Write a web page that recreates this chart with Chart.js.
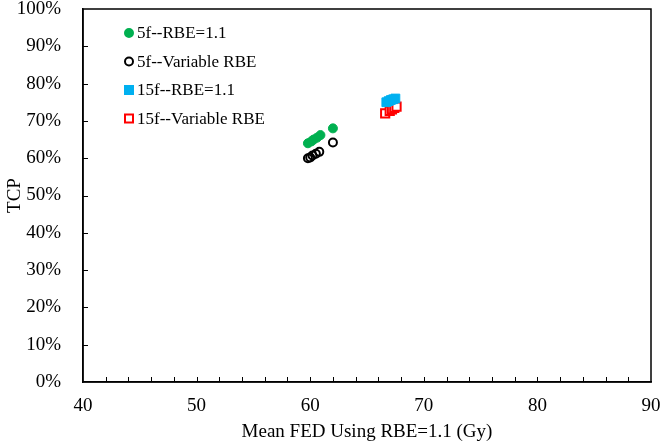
<!DOCTYPE html>
<html>
<head>
<meta charset="utf-8">
<script src="https://cdn.jsdelivr.net/npm/chart.js@4"></script>
<style>
  html, body { margin: 0; padding: 0; background: #fff; }
</style>
</head>
<body>
<canvas id="chart" width="663" height="447"></canvas>
<script>
// values
const seriesLabels = ['5f--RBE=1.1', '5f--Variable RBE', '15f--RBE=1.1', '15f--Variable RBE'];

const fed5fRbe = [59.8, 60.1, 60.3, 60.6, 60.9, 62.0];
const tcp5fRbe = [0.640, 0.645, 0.650, 0.655, 0.662, 0.680];

const fed5fVar = [59.8, 60.0, 60.2, 60.5, 60.8, 62.0];
const tcp5fVar = [0.600, 0.602, 0.607, 0.612, 0.617, 0.642];

const fed15fRbe = [66.7, 66.9, 67.1, 67.3, 67.5];
const tcp15fRbe = [0.750, 0.753, 0.756, 0.758, 0.760];

const fed15fVar = [66.6, 67.0, 67.2, 67.4, 67.6];
const tcp15fVar = [0.720, 0.727, 0.731, 0.735, 0.738];

const xTicks = [40, 50, 60, 70, 80, 90];

const serif = "'Liberation Serif', 'Times New Roman', serif";

const pts = (xs, ys) => xs.map((x, i) => ({ x: x, y: ys[i] }));

// frame + inside tick marks
const frame = {
    id: 'frame',
    afterDraw(chart) {
        const { ctx, chartArea: a, scales } = chart;
        ctx.save();
        ctx.strokeStyle = '#000';
        ctx.lineWidth = 1.5;
        ctx.strokeRect(a.left, a.top, a.right - a.left, a.bottom - a.top);
        ctx.lineWidth = 1;
        ctx.beginPath();
        for (let v = 42; v < 90; v += 2) {
            const px = Math.round(scales.x.getPixelForValue(v)) + 0.5;
            ctx.moveTo(px, a.bottom);
            ctx.lineTo(px, a.bottom - 5);
        }
        for (let v = 1; v < 10; v++) {
            const py = Math.round(scales.y.getPixelForValue(v / 10)) + 0.5;
            ctx.moveTo(a.left, py);
            ctx.lineTo(a.left + 5, py);
        }
        ctx.stroke();
        ctx.restore();
    }
};

// legend drawn inside the plot, top-left
const insideLegend = {
    id: 'insideLegend',
    afterDraw(chart) {
        const ctx = chart.ctx;
        ctx.save();
        ctx.font = '17px ' + serif;
        ctx.textBaseline = 'middle';
        const x0 = 129, y0 = 33, gap = 28.5;
        chart.data.datasets.forEach((ds, i) => {
            const y = y0 + i * gap;
            ctx.lineWidth = 2;
            ctx.strokeStyle = ds.borderColor;
            ctx.fillStyle = ds.backgroundColor;
            ctx.beginPath();
            if (ds.pointStyle === 'rect') {
                ctx.rect(x0 - 4, y - 4, 8, 8);
            } else {
                ctx.arc(x0, y, 4, 0, Math.PI * 2);
            }
            ctx.fill();
            ctx.stroke();
            ctx.fillStyle = '#000';
            ctx.fillText(ds.label, x0 + 8, y + 1);
        });
        ctx.restore();
    }
};

new Chart(document.getElementById('chart'), {
    type: 'scatter',
    data: {
        datasets: [
            {
                label: seriesLabels[0],
                data: pts(fed5fRbe, tcp5fRbe),
                pointStyle: 'circle',
                pointRadius: 4.5,
                backgroundColor: '#00B050',
                borderColor: '#00B050',
                borderWidth: 1
            },
            {
                label: seriesLabels[1],
                data: pts(fed5fVar, tcp5fVar),
                pointStyle: 'circle',
                pointRadius: 4,
                backgroundColor: 'rgba(255,255,255,0)',
                borderColor: '#000',
                borderWidth: 2
            },
            {
                label: seriesLabels[2],
                data: pts(fed15fRbe, tcp15fRbe),
                pointStyle: 'rect',
                pointRadius: 6.2,
                backgroundColor: '#00B0F0',
                borderColor: '#00B0F0',
                borderWidth: 1
            },
            {
                label: seriesLabels[3],
                data: pts(fed15fVar, tcp15fVar),
                pointStyle: 'rect',
                pointRadius: 5.8,
                backgroundColor: '#fff',
                borderColor: '#FF0000',
                borderWidth: 2
            }
        ]
    },
    options: {
        responsive: false,
        animation: false,
        layout: { padding: { top: 9, right: 12, left: 0, bottom: 0 } },
        plugins: { legend: { display: false }, tooltip: { enabled: false } },
        scales: {
            x: {
                type: 'linear',
                min: 40,
                max: 90,
                afterBuildTicks: (s) => { s.ticks = xTicks.map(v => ({ value: v })); },
                afterFit: (s) => { s.height = 65; s.paddingLeft = 0; s.paddingRight = 0; },
                grid: { display: false },
                border: { display: true, color: '#000', width: 1.5 },
                ticks: { color: '#000', font: { family: serif, size: 19 }, padding: 5, maxRotation: 0 },
                title: {
                    display: true,
                    text: 'Mean FED Using RBE=1.1 (Gy)',
                    color: '#000',
                    font: { family: serif, size: 19 },
                    padding: { top: 0 }
                }
            },
            y: {
                type: 'linear',
                min: 0,
                max: 1,
                afterFit: (s) => { s.width = 83; s.paddingTop = 0; s.paddingBottom = 0; },
                grid: { display: false },
                border: { display: true, color: '#000', width: 1.5 },
                ticks: {
                    stepSize: 0.1,
                    color: '#000',
                    font: { family: serif, size: 19 },
                    padding: 14,
                    callback: (v) => Math.round(v * 100) + '%'
                },
                title: {
                    display: true,
                    text: 'TCP',
                    color: '#000',
                    font: { family: serif, size: 19 },
                    padding: { bottom: 0 }
                }
            }
        }
    },
    plugins: [frame, insideLegend]
});
</script>
</body>
</html>
